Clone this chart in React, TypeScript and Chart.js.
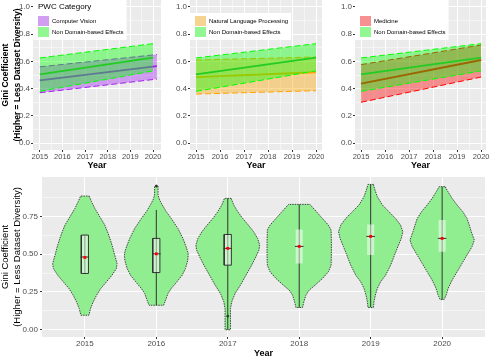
import React, { useEffect, useRef } from "react";
import { Chart, registerables } from "chart.js";

Chart.register(...registerables);
Chart.defaults.font.family = '"Liberation Sans", Arial, sans-serif';

// ---------- Top panels: fitted trends with confidence ribbons ----------
const YEARS_CV = [2015, 2020.17];
const YEARS = [2015, 2020];

const GENERAL_MEAN = [0.505, 0.627];
const GENERAL_UPPER = [0.625, 0.73];
const GENERAL_LOWER = [0.38, 0.53];

const CV_MEAN = [0.46, 0.565];
const CV_UPPER = [0.56, 0.65];
const CV_LOWER = [0.37, 0.47];

const NLP_MEAN = [0.484, 0.52];
const NLP_UPPER = [0.61, 0.632];
const NLP_LOWER = [0.36, 0.385];

const MED_MEAN = [0.436, 0.61];
const MED_UPPER = [0.576, 0.72];
const MED_LOWER = [0.3, 0.485];

const TOP_Y_TICKS = [0, 0.1, 0.2, 0.3, 0.4, 0.5, 0.6, 0.7, 0.8, 0.9, 1.0];
const TOP_X_TICKS = [2015, 2015.5, 2016, 2016.5, 2017, 2017.5, 2018, 2018.5, 2019, 2019.5, 2020];

// ---------- Bottom panel: violins per year ----------
const VIOLIN_YEARS = [2015, 2016, 2017, 2018, 2019, 2020];

const V2015_Y = [0.884, 0.847, 0.802, 0.758, 0.692, 0.626, 0.56, 0.493, 0.438, 0.405, 0.361, 0.317, 0.273, 0.228, 0.184, 0.14, 0.096];
const V2015_W = [0.06, 0.093, 0.139, 0.195, 0.279, 0.334, 0.38, 0.418, 0.45, 0.441, 0.38, 0.302, 0.223, 0.163, 0.116, 0.079, 0.056];

const V2016_Y = [0.95, 0.891, 0.858, 0.825, 0.781, 0.736, 0.67, 0.604, 0.548, 0.504, 0.46, 0.405, 0.361, 0.317, 0.273, 0.24, 0.196, 0.162];
const V2016_W = [0.024, 0.024, 0.046, 0.084, 0.139, 0.209, 0.302, 0.372, 0.418, 0.446, 0.441, 0.408, 0.362, 0.288, 0.209, 0.163, 0.13, 0.102];

const V2017_Y = [0.869, 0.825, 0.781, 0.736, 0.692, 0.648, 0.604, 0.56, 0.527, 0.483, 0.427, 0.361, 0.295, 0.24, 0.185, 0.14, 0.074, 0.0];
const V2017_W = [0.046, 0.084, 0.139, 0.209, 0.288, 0.362, 0.418, 0.446, 0.436, 0.394, 0.334, 0.255, 0.177, 0.102, 0.056, 0.038, 0.038, 0.038];

const V2018_Y = [0.829, 0.781, 0.736, 0.692, 0.659, 0.582, 0.493, 0.427, 0.383, 0.339, 0.295, 0.262, 0.229, 0.185, 0.147];
const V2018_W = [0.149, 0.241, 0.325, 0.408, 0.446, 0.45, 0.45, 0.446, 0.408, 0.325, 0.223, 0.139, 0.093, 0.065, 0.046];

const V2019_Y = [0.961, 0.924, 0.88, 0.825, 0.781, 0.736, 0.692, 0.648, 0.604, 0.549, 0.494, 0.427, 0.361, 0.317, 0.273, 0.229, 0.185, 0.147];
const V2019_W = [0.038, 0.06, 0.093, 0.163, 0.255, 0.348, 0.418, 0.45, 0.428, 0.38, 0.334, 0.279, 0.209, 0.139, 0.093, 0.065, 0.046, 0.038];

const V2020_Y = [0.946, 0.915, 0.869, 0.825, 0.781, 0.736, 0.692, 0.648, 0.593, 0.549, 0.494, 0.439, 0.383, 0.328, 0.273, 0.229, 0.2];
const V2020_W = [0.042, 0.079, 0.139, 0.209, 0.288, 0.348, 0.38, 0.408, 0.45, 0.418, 0.348, 0.279, 0.209, 0.139, 0.084, 0.056, 0.028];

const BOX_Q1 = [0.372, 0.378, 0.427, 0.438, 0.494, 0.515];
const BOX_Q3 = [0.626, 0.604, 0.63, 0.663, 0.696, 0.725];
const MEDIANS = [0.481, 0.502, 0.538, 0.551, 0.617, 0.604];
const MEANS = [0.478, 0.502, 0.538, 0.551, 0.617, 0.604];
const WHISKER_LO = [0.372, 0.162, 0.0, 0.147, 0.15, 0.2];
const WHISKER_HI = [0.626, 0.792, 0.869, 0.829, 0.961, 0.946];
const OUTLIER_X = [2016, 2017];
const OUTLIER_Y = [0.95, 0.09];

const BOTTOM_Y_TICKS = [0, 0.125, 0.25, 0.375, 0.5, 0.625, 0.75, 0.875];

// ---------- helpers ----------
const GREY_TEXT = "#4d4d4d";
const GRID = "#ffffff";
const PANEL_BG = "#ebebeb";

const pts = (xs: number[], ys: number[]) => xs.map((x, i) => ({ x, y: ys[i] }));

const bgPlugin = {
  id: "panelBg",
  beforeDraw(chart: any) {
    const { ctx, chartArea: a } = chart;
    ctx.save();
    ctx.fillStyle = PANEL_BG;
    ctx.fillRect(a.left, a.top, a.right - a.left, a.bottom - a.top);
    ctx.restore();
  },
};

function makeLegend(cfg: { title?: string; dy: number; h: number; keyTop: number; items: { label: string; fill: string }[] }) {
  return {
    id: "ribbonLegend",
    afterDraw(chart: any) {
      const { ctx, chartArea } = chart;
      const x0 = chartArea.left;
      const y0 = chartArea.top + cfg.dy;
      ctx.save();
      ctx.font = '6px "Liberation Sans", Arial, sans-serif';
      const tw = Math.max(...cfg.items.map((it) => ctx.measureText(it.label).width));
      const w = 18 + tw + 4;
      ctx.fillStyle = "#ffffff";
      ctx.fillRect(x0, y0, w, cfg.h);
      ctx.textBaseline = "middle";
      ctx.textAlign = "left";
      if (cfg.title) {
        ctx.font = '8px "Liberation Sans", Arial, sans-serif';
        ctx.fillStyle = "#000";
        ctx.fillText(cfg.title, x0 + 5, y0 + 7);
      }
      cfg.items.forEach((it, i) => {
        const sy = y0 + cfg.keyTop + i * 11;
        ctx.fillStyle = "#f2f2f2";
        ctx.fillRect(x0 + 5, sy, 11, 10);
        ctx.fillStyle = it.fill;
        ctx.fillRect(x0 + 5, sy, 11, 10);
        ctx.font = '6px "Liberation Sans", Arial, sans-serif';
        ctx.fillStyle = "#000";
        ctx.fillText(it.label, x0 + 19, sy + 5.5);
      });
      ctx.restore();
    },
  };
}

const isMajorTenth = (v: number) => Math.round(v * 10) % 2 === 0;

function topConfig(p: {
  xs: number[];
  mean: number[];
  upper: number[];
  lower: number[];
  color: string;
  fill: string;
  xmin: number;
  xmax: number;
  yWidth: number;
  padRight: number;
  yTitle: boolean;
  legend: any;
}) {
  const dashed = [6, 3];
  return {
    type: "scatter",
    data: {
      datasets: [
        { data: pts(YEARS, GENERAL_MEAN), showLine: true, borderColor: "#22cc22", borderWidth: 1.8, pointRadius: 0, order: 1 },
        { data: pts(YEARS, GENERAL_UPPER), showLine: true, borderColor: "#00ff00", borderWidth: 1, borderDash: dashed, pointRadius: 0, fill: 2, backgroundColor: "rgba(0,255,0,0.4)", order: 2 },
        { data: pts(YEARS, GENERAL_LOWER), showLine: true, borderColor: "#00ff00", borderWidth: 1, borderDash: dashed, pointRadius: 0, order: 3 },
        { data: pts(p.xs, p.mean), showLine: true, borderColor: p.color, borderWidth: 1.8, pointRadius: 0, order: 4 },
        { data: pts(p.xs, p.upper), showLine: true, borderColor: p.color, borderWidth: 1, borderDash: dashed, pointRadius: 0, fill: 5, backgroundColor: p.fill, order: 5 },
        { data: pts(p.xs, p.lower), showLine: true, borderColor: p.color, borderWidth: 1, borderDash: dashed, pointRadius: 0, order: 6 },
      ],
    },
    options: {
      responsive: false,
      animation: false,
      layout: { padding: { top: 0, right: p.padRight, left: 0, bottom: 0 } },
      plugins: { legend: { display: false }, tooltip: { enabled: false } },
      scales: {
        x: {
          type: "linear",
          min: p.xmin,
          max: p.xmax,
          afterBuildTicks: (s: any) => {
            s.ticks = TOP_X_TICKS.map((v) => ({ value: v }));
          },
          afterFit: (s: any) => {
            s.height = 20;
            s.paddingLeft = 0;
            s.paddingRight = 0;
          },
          ticks: {
            autoSkip: false,
            maxRotation: 0,
            padding: 0,
            color: GREY_TEXT,
            font: { size: 7.5 },
            callback: (v: number) => (Number.isInteger(v) ? String(v) : ""),
          },
          grid: {
            color: GRID,
            lineWidth: (c: any) => (c.tick && Number.isInteger(c.tick.value) ? 1 : 0.5),
            tickColor: (c: any) => (c.tick && Number.isInteger(c.tick.value) ? "#333" : "rgba(0,0,0,0)"),
            tickLength: 2,
          },
          border: { display: false },
          title: { display: true, text: "Year", color: "#000", font: { size: 9, weight: "bold", lineHeight: 1.1 }, padding: 0 },
        },
        y: {
          type: "linear",
          min: -0.05,
          max: 1.05,
          afterBuildTicks: (s: any) => {
            s.ticks = TOP_Y_TICKS.map((v) => ({ value: v }));
          },
          afterFit: (s: any) => {
            s.width = p.yWidth;
            s.paddingTop = 0;
            s.paddingBottom = 0;
          },
          ticks: {
            padding: 1,
            color: GREY_TEXT,
            font: { size: 8 },
            callback: (v: number) => (isMajorTenth(v) ? v.toFixed(1) : ""),
          },
          grid: {
            color: GRID,
            lineWidth: (c: any) => (c.tick && isMajorTenth(c.tick.value) ? 1 : 0.5),
            tickColor: (c: any) => (c.tick && isMajorTenth(c.tick.value) ? "#333" : "rgba(0,0,0,0)"),
            tickLength: 2,
          },
          border: { display: false },
          title: {
            display: p.yTitle,
            text: ["Gini Coefficient", "(Higher = Less Dataset Diversity)"],
            color: "#000",
            font: { size: 8.5, weight: "bold", lineHeight: 1.4 },
            padding: 0,
          },
        },
      },
    },
    plugins: [bgPlugin, makeLegend(p.legend)],
  };
}

function violinPoints(year: number, ys: number[], ws: number[]) {
  const right = ys.map((y, i) => ({ x: year + ws[i], y }));
  const left = ys.map((y, i) => ({ x: year - ws[i], y })).reverse();
  return [...right, ...left, right[0]];
}

function bottomConfig() {
  const shapes = [
    [V2015_Y, V2015_W],
    [V2016_Y, V2016_W],
    [V2017_Y, V2017_W],
    [V2018_Y, V2018_W],
    [V2019_Y, V2019_W],
    [V2020_Y, V2020_W],
  ];
  const bw = 0.05;
  const datasets: any[] = [];
  VIOLIN_YEARS.forEach((yr, i) => {
    datasets.push({
      data: violinPoints(yr, shapes[i][0], shapes[i][1]),
      showLine: true,
      fill: "shape",
      backgroundColor: "#90ee90",
      borderColor: "#333333",
      borderWidth: 0.9,
      borderDash: [1.5, 1],
      pointRadius: 0,
      order: 10,
    });
    datasets.push({
      data: [
        { x: yr, y: WHISKER_LO[i] },
        { x: yr, y: WHISKER_HI[i] },
      ],
      showLine: true,
      borderColor: "#333333",
      borderWidth: 1,
      pointRadius: 0,
      order: 9,
    });
    const outlined = i < 3;
    datasets.push({
      data: [
        { x: yr - bw, y: BOX_Q1[i] },
        { x: yr + bw, y: BOX_Q1[i] },
        { x: yr + bw, y: BOX_Q3[i] },
        { x: yr - bw, y: BOX_Q3[i] },
        { x: yr - bw, y: BOX_Q1[i] },
      ],
      showLine: true,
      fill: "shape",
      backgroundColor: "rgba(255,255,255,0.5)",
      borderColor: outlined ? "#333333" : "rgba(0,0,0,0)",
      borderWidth: outlined ? 1 : 0,
      pointRadius: 0,
      order: 8,
    });
    datasets.push({
      data: [
        { x: yr - bw - 0.01, y: MEDIANS[i] },
        { x: yr + bw + 0.01, y: MEDIANS[i] },
      ],
      showLine: true,
      borderColor: "#333333",
      borderWidth: 1,
      pointRadius: 0,
      order: 7,
    });
  });
  datasets.push({
    data: pts(OUTLIER_X, OUTLIER_Y),
    pointRadius: 1,
    pointStyle: "circle",
    backgroundColor: "#333333",
    borderColor: "#333333",
    order: 6,
  });
  datasets.push({
    data: pts(VIOLIN_YEARS, MEANS),
    pointRadius: 2,
    pointStyle: "rect",
    backgroundColor: "#ff0000",
    borderColor: "#ff0000",
    borderWidth: 0,
    order: 1,
  });

  return {
    type: "scatter",
    data: { datasets },
    options: {
      responsive: false,
      animation: false,
      layout: { padding: { top: 9, right: 3, left: 0, bottom: 0 } },
      plugins: { legend: { display: false }, tooltip: { enabled: false } },
      scales: {
        x: {
          type: "linear",
          min: 2014.4,
          max: 2020.6,
          afterBuildTicks: (s: any) => {
            s.ticks = VIOLIN_YEARS.map((v) => ({ value: v }));
          },
          afterFit: (s: any) => {
            s.height = 21;
            s.paddingLeft = 0;
            s.paddingRight = 0;
          },
          ticks: { autoSkip: false, maxRotation: 0, padding: 0, color: GREY_TEXT, font: { size: 8 }, callback: (v: number) => String(v) },
          grid: { color: GRID, lineWidth: 1, tickColor: "#333", tickLength: 2 },
          border: { display: false },
          title: { display: true, text: "Year", color: "#000", font: { size: 9, weight: "bold", lineHeight: 1.1 }, padding: 0 },
        },
        y: {
          type: "linear",
          min: -0.048,
          max: 1.01,
          afterBuildTicks: (s: any) => {
            s.ticks = BOTTOM_Y_TICKS.map((v) => ({ value: v }));
          },
          afterFit: (s: any) => {
            s.width = 42;
            s.paddingTop = 0;
            s.paddingBottom = 0;
          },
          ticks: {
            padding: 2,
            color: GREY_TEXT,
            font: { size: 8 },
            callback: (v: number) => (Math.round(v * 8) % 2 === 0 ? v.toFixed(2) : ""),
          },
          grid: {
            color: GRID,
            lineWidth: (c: any) => (c.tick && Math.round(c.tick.value * 8) % 2 === 0 ? 1 : 0.5),
            tickColor: (c: any) => (c.tick && Math.round(c.tick.value * 8) % 2 === 0 ? "#333" : "rgba(0,0,0,0)"),
            tickLength: 2,
          },
          border: { display: false },
          title: {
            display: true,
            text: ["Gini Coefficient", "(Higher = Less Dataset Diversity)"],
            color: "#000",
            font: { size: 9.5, lineHeight: 1.2 },
            padding: 0,
          },
        },
      },
    },
    plugins: [bgPlugin],
  };
}

function ChartCanvas({ left, top, width, height, make }: { left: number; top: number; width: number; height: number; make: () => any }) {
  const ref = useRef<HTMLCanvasElement | null>(null);
  useEffect(() => {
    if (!ref.current) return;
    const chart = new Chart(ref.current, make());
    return () => chart.destroy();
  }, []);
  return <canvas ref={ref} width={width} height={height} style={{ position: "absolute", left, top, width, height }} />;
}

export default function App() {
  return (
    <div style={{ position: "absolute", left: 0, top: 0, width: 490, height: 358, background: "#fff", overflow: "hidden" }}>
      <ChartCanvas
        left={0}
        top={0}
        width={163}
        height={170}
        make={() =>
          topConfig({
            xs: YEARS_CV,
            mean: CV_MEAN,
            upper: CV_UPPER,
            lower: CV_LOWER,
            color: "#a020f0",
            fill: "rgba(160,32,240,0.4)",
            xmin: 2014.7,
            xmax: 2020.35,
            yWidth: 33,
            padRight: 2,
            yTitle: true,
            legend: {
              title: "PWC Category",
              dy: 0,
              h: 40,
              keyTop: 16,
              items: [
                { label: "Computer Vision", fill: "rgba(160,32,240,0.4)" },
                { label: "Non Domain-based Effects", fill: "rgba(0,255,0,0.4)" },
              ],
            },
          })
        }
      />
      <ChartCanvas
        left={163}
        top={0}
        width={161}
        height={170}
        make={() =>
          topConfig({
            xs: YEARS,
            mean: NLP_MEAN,
            upper: NLP_UPPER,
            lower: NLP_LOWER,
            color: "#ffa500",
            fill: "rgba(255,165,0,0.4)",
            xmin: 2014.75,
            xmax: 2020.25,
            yWidth: 27,
            padRight: 2,
            yTitle: false,
            legend: {
              dy: 13,
              h: 27,
              keyTop: 3,
              items: [
                { label: "Natural Language Processing", fill: "rgba(255,165,0,0.4)" },
                { label: "Non Domain-based Effects", fill: "rgba(0,255,0,0.4)" },
              ],
            },
          })
        }
      />
      <ChartCanvas
        left={324}
        top={0}
        width={166}
        height={170}
        make={() =>
          topConfig({
            xs: YEARS,
            mean: MED_MEAN,
            upper: MED_UPPER,
            lower: MED_LOWER,
            color: "#ff0000",
            fill: "rgba(255,0,0,0.4)",
            xmin: 2014.75,
            xmax: 2020.2,
            yWidth: 31,
            padRight: 4,
            yTitle: false,
            legend: {
              dy: 0,
              h: 40,
              keyTop: 16,
              items: [
                { label: "Medicine", fill: "rgba(255,0,0,0.4)" },
                { label: "Non Domain-based Effects", fill: "rgba(0,255,0,0.4)" },
              ],
            },
          })
        }
      />
      <ChartCanvas left={0} top={168} width={490} height={190} make={bottomConfig} />
    </div>
  );
}
